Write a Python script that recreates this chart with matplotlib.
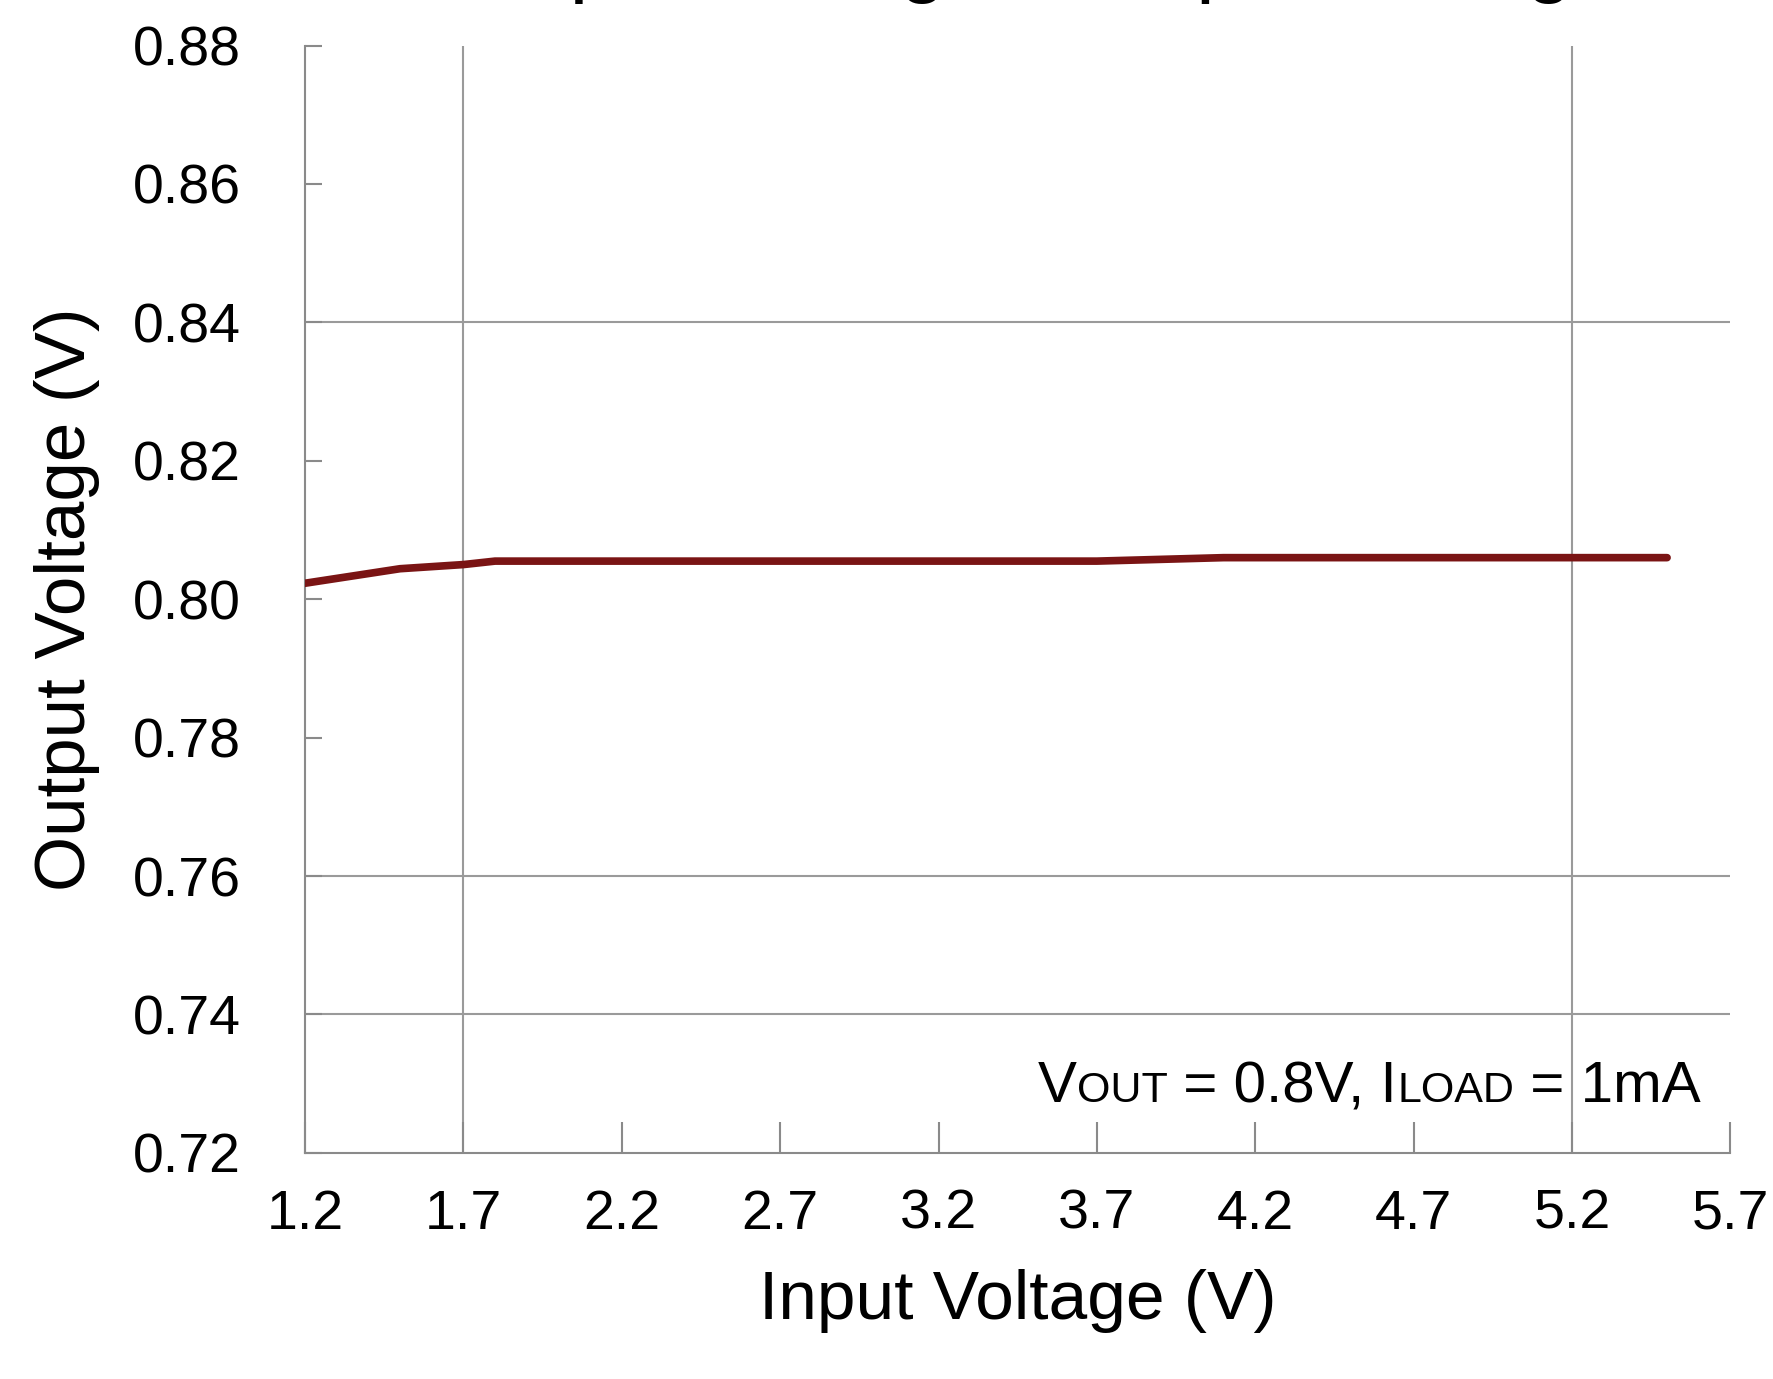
import numpy as np
import matplotlib
matplotlib.use('Agg')
import matplotlib.pyplot as plt
from matplotlib.offsetbox import TextArea, HPacker, AnnotationBbox

plt.rcParams['font.family'] = ['Liberation Sans', 'DejaVu Sans']

## data
vin = [1.2, 1.5, 1.7, 1.8, 2.2, 2.7, 3.2, 3.7, 4.1, 4.7, 5.2, 5.5]
vout = [0.8023, 0.8044, 0.8050, 0.8055, 0.8055, 0.8055, 0.8055, 0.8055, 0.8060, 0.8060, 0.8060, 0.8060]

x_ticks = [1.2, 1.7, 2.2, 2.7, 3.2, 3.7, 4.2, 4.7, 5.2, 5.7]
y_ticks = [0.72, 0.74, 0.76, 0.78, 0.80, 0.82, 0.84, 0.86, 0.88]
x_grid = [1.7, 5.2]
y_grid = [0.74, 0.76, 0.84]

title = 'Output Voltage vs Input Voltage'
line_color = '#7a1414'
grid_color = '#9a9a9a'

fig = plt.figure(figsize=(17.73, 13.79), dpi=100)
ax = fig.add_axes([0.172, 0.164, 0.804, 0.803])

## grid lines only where the original has them
for xg in x_grid:
    ax.axvline(xg, color=grid_color, linewidth=1.5, zorder=1)
for yg in y_grid:
    ax.axhline(yg, color=grid_color, linewidth=1.5, zorder=1)

ax.plot(vin, vout, color=line_color, linewidth=5.5, solid_capstyle='round', zorder=3)

ax.set_xlim(1.2, 5.7)
ax.set_ylim(0.72, 0.88)
ax.set_xticks(x_ticks)
ax.set_yticks(y_ticks)
ax.set_xticklabels([f'{v:.1f}' for v in x_ticks])
ax.set_yticklabels([f'{v:.2f}' for v in y_ticks])

ax.spines['top'].set_visible(False)
ax.spines['right'].set_visible(False)
for s in ('left', 'bottom'):
    ax.spines[s].set_color('#8a8a8a')
    ax.spines[s].set_linewidth(1.5)

ax.tick_params(axis='x', direction='in', length=22, width=1.5, color='#8a8a8a',
               labelsize=40, pad=26, labelcolor='black')
ax.tick_params(axis='y', direction='in', length=12, width=1.5, color='#8a8a8a',
               labelsize=40, pad=46, labelcolor='black')

ax.set_xlabel('Input Voltage (V)', fontsize=50, labelpad=20)
ax.set_ylabel('Output Voltage (V)', fontsize=51, labelpad=24)

## title is clipped by the top edge in the original, only descenders show
fig.text(0.579, 1.0105, title, fontsize=61, ha='center', va='baseline')

## condition note with small caps style parts
big, small = 42, 31
parts = [TextArea('V', textprops=dict(size=big)),
         TextArea('OUT', textprops=dict(size=small)),
         TextArea(' = 0.8V, I', textprops=dict(size=big)),
         TextArea('LOAD', textprops=dict(size=small)),
         TextArea(' = 1mA', textprops=dict(size=big))]
box = HPacker(children=parts, align='baseline', pad=0, sep=0)
ab = AnnotationBbox(box, (0.979, 0.035), xycoords='axes fraction',
                    box_alignment=(1, 0), frameon=False, pad=0)
ax.add_artist(ab)

fig.savefig('out.png', dpi=100, facecolor='white')
